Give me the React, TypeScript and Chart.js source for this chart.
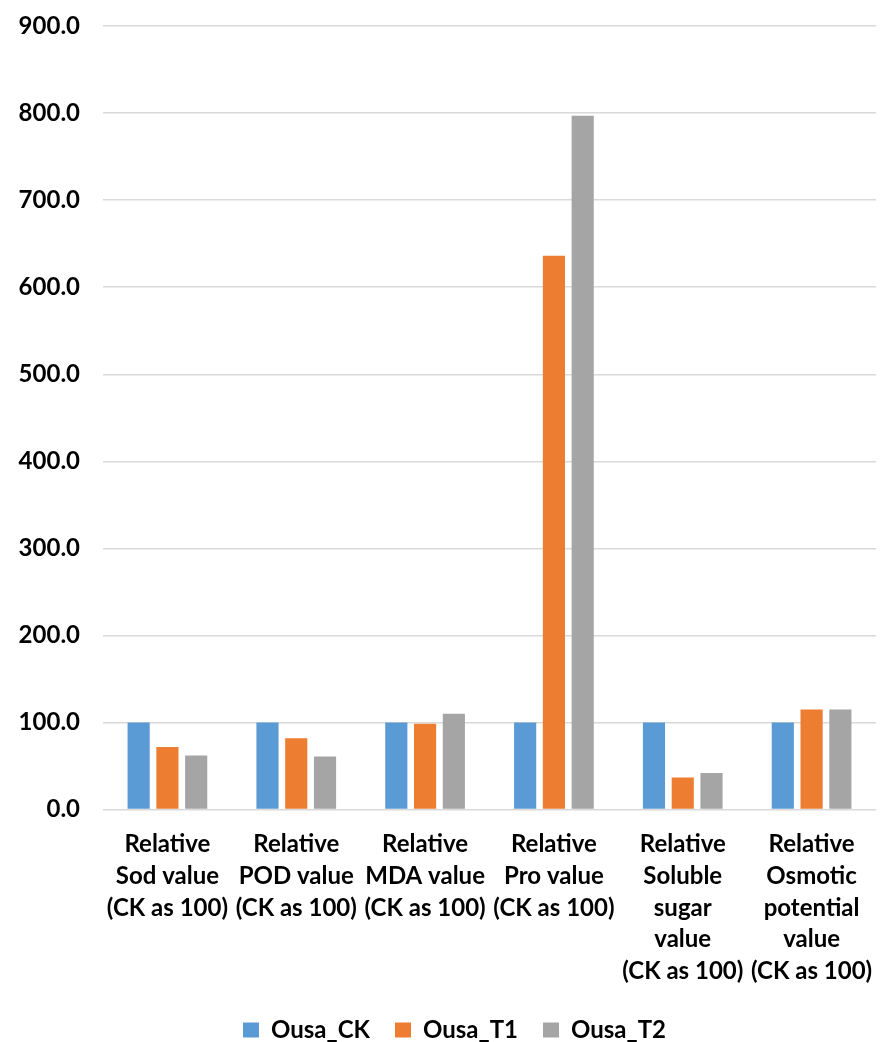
import React, { useEffect, useRef } from "react";
import { Chart, registerables } from "chart.js";

Chart.register(...registerables);

const categories: string[][] = [
  ["Relative", "Sod value", "(CK as 100)"],
  ["Relative", "POD value", "(CK as 100)"],
  ["Relative", "MDA value", "(CK as 100)"],
  ["Relative", "Pro value", "(CK as 100)"],
  ["Relative", "Soluble", "sugar", "value", "(CK as 100)"],
  ["Relative", "Osmotic", "potential", "value", "(CK as 100)"],
];

const seriesNames = ["Ousa_CK", "Ousa_T1", "Ousa_T2"];
const ousaCK = [100, 100, 100, 100, 100, 100];
const ousaT1 = [72, 82, 98.5, 636, 37, 115];
const ousaT2 = [62, 61, 110, 797, 42, 115];
const seriesColors = ["#5B9BD5", "#ED7D31", "#A5A5A5"];

const yMin = 0;
const yMax = 900;
const yStep = 100;

const FONT = "Lato, 'Open Sans', sans-serif";
const LEGEND_GAP = 25;

// The legend uses one padding value for both item spacing and its own height;
// keep the wide item spacing but give the legend a compact band at the bottom.
const compactLegend = {
  id: "compactLegend",
  beforeLayout(chart: any) {
    const legend = chart.legend;
    if (legend && !legend.__compact) {
      const fit = legend.fit.bind(legend);
      legend.fit = function () {
        fit();
        this.height = this.height - 2 * LEGEND_GAP + 35;
      };
      legend.__compact = true;
    }
  },
  afterLayout(chart: any) {
    const legend = chart.legend;
    if (legend) {
      legend.top = 993;
      legend.bottom = chart.height;
      legend.height = legend.bottom - legend.top;
      legend.left += 9;
      legend.right += 9;
    }
  },
};

export default function App() {
  const canvasRef = useRef<HTMLCanvasElement | null>(null);

  useEffect(() => {
    document.body.style.margin = "0";
    const ctx = canvasRef.current!.getContext("2d")!;
    const values = [ousaCK, ousaT1, ousaT2];
    const chart = new Chart(ctx, {
      type: "bar",
      data: {
        labels: categories,
        datasets: seriesNames.map((name, i) => ({
          label: name,
          data: values[i],
          backgroundColor: seriesColors[i],
          borderWidth: 0,
          categoryPercentage: 0.67,
          barPercentage: 0.77,
        })),
      },
      plugins: [compactLegend],
      options: {
        animation: false,
        responsive: false,
        maintainAspectRatio: false,
        layout: { padding: { top: 26, right: 7, left: 15, bottom: 0 } },
        plugins: {
          tooltip: { enabled: false },
          legend: {
            position: "bottom",
            labels: {
              color: "#000",
              font: { family: FONT, size: 24, weight: "bold" },
              boxWidth: 16,
              boxHeight: 15,
              padding: LEGEND_GAP,
            },
          },
        },
        scales: {
          x: {
            grid: { display: false },
            border: { display: false },
            afterFit: (scale: any) => {
              scale.paddingLeft = 0;
              scale.paddingRight = 0;
            },
            ticks: {
              color: "#000",
              font: { family: FONT, size: 24, weight: "bold", lineHeight: 1.32 },
              maxRotation: 0,
              autoSkip: false,
              padding: 11,
            },
          },
          y: {
            min: yMin,
            max: yMax,
            grid: { color: "#D9D9D9", lineWidth: 1.5, drawTicks: false },
            border: { display: false },
            afterFit: (scale: any) => {
              scale.width = 88;
              scale.paddingTop = 0;
              scale.paddingBottom = 0;
            },
            ticks: {
              stepSize: yStep,
              color: "#000",
              font: { family: FONT, size: 24, weight: "bold" },
              padding: 23,
              callback: (v) => Number(v).toFixed(1),
            },
          },
        },
      },
    });
    return () => chart.destroy();
  }, []);

  return (
    <div style={{ position: "absolute", left: 0, top: 0, width: 883, height: 1042, background: "#fff" }}>
      <canvas ref={canvasRef} width={883} height={1042} />
    </div>
  );
}
